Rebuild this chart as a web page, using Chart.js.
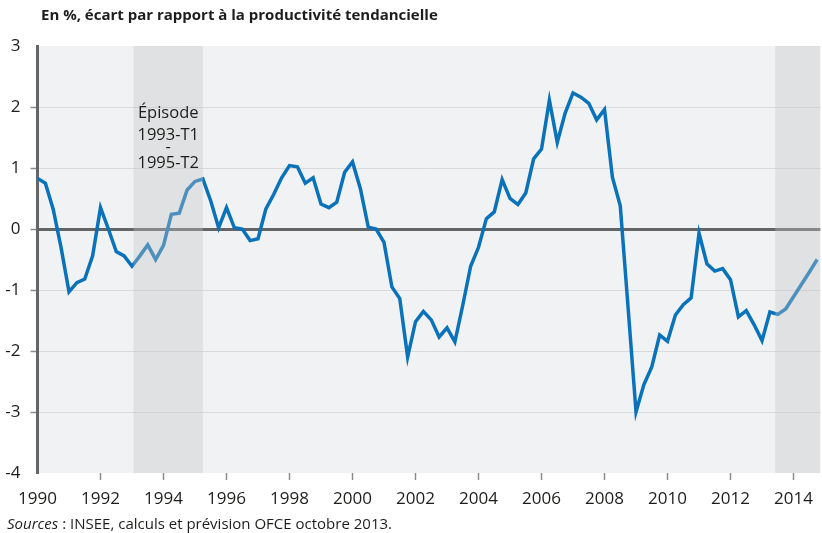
<!DOCTYPE html>
<html>
<head>
<meta charset="utf-8">
<script src="https://cdn.jsdelivr.net/npm/chart.js@4.4.0/dist/chart.umd.min.js"></script>
<style>
html, body { margin: 0; padding: 0; background: #fff; }
#wrap { width: 822px; height: 533px; }
</style>
</head>
<body>
<div id="wrap"><canvas id="ecart" width="822" height="533"></canvas></div>
<script>
// écart à la productivité tendancielle, trimestriel, 1990-T1 .. 2014-T4
var startYear = 1990;
var ecart = [
	0.83, 0.75, 0.32, -0.31, -1.03, -0.88, -0.82, -0.44,
	0.35, 0.00, -0.37, -0.44, -0.61, -0.44, -0.26, -0.50,
	-0.27, 0.24, 0.26, 0.64, 0.78, 0.82, 0.46, 0.02,
	0.35, 0.02, 0.00, -0.19, -0.16, 0.33, 0.57, 0.84,
	1.04, 1.02, 0.75, 0.84, 0.41, 0.35, 0.44, 0.93,
	1.10, 0.66, 0.03, 0.00, -0.22, -0.95, -1.14, -2.10,
	-1.52, -1.35, -1.49, -1.77, -1.62, -1.85, -1.25, -0.61,
	-0.30, 0.17, 0.28, 0.81, 0.50, 0.40, 0.59, 1.15,
	1.31, 2.11, 1.42, 1.90, 2.23, 2.16, 2.06, 1.79,
	1.96, 0.85, 0.38, -1.30, -3.00, -2.55, -2.26, -1.74,
	-1.84, -1.41, -1.24, -1.13, -0.07, -0.57, -0.69, -0.65,
	-0.83, -1.44, -1.34, -1.57, -1.83, -1.36, -1.40, -1.31,
	-1.11, -0.91, -0.71, -0.50
];

// zones grisées : épisode 1993-T1 / 1995-T2 et prévision
var episode = [1993.05, 1995.25];
var prevision = [2013.42, 2014.85];
var episodeText = ['Épisode', '1993-T1', '-', '1995-T2'];

var yearMin = 1990, yearMax = 2014.85;
var yMin = -4, yMax = 3;

var titre = 'En %, écart par rapport à la productivité tendancielle';
var sourceLabel = 'Sources';
var sourceText = ' : INSEE, calculs et prévision OFCE octobre 2013.';

var points = ecart.map(function (v, i) {
	return { x: startYear + i / 4, y: v };
});

var font = '"Open Sans", "Noto Sans", sans-serif';

var decor = {
	id: 'decor',
	beforeDraw: function (chart) {
		var c = chart.ctx, a = chart.chartArea;
		c.save();
		c.fillStyle = '#f1f2f4';
		c.fillRect(a.left, a.top, a.right - a.left, a.bottom - a.top);
		c.restore();
	},
	afterDatasetsDraw: function (chart) {
		var c = chart.ctx, a = chart.chartArea, xs = chart.scales.x;
		c.save();
		c.fillStyle = 'rgba(193, 194, 196, 0.37)';
		for (let z of [episode, prevision]) {
			var x0 = xs.getPixelForValue(z[0]);
			var x1 = Math.min(xs.getPixelForValue(z[1]), a.right);
			c.fillRect(x0, a.top, x1 - x0, a.bottom - a.top);
		}
		// texte de l'épisode
		var cx = xs.getPixelForValue((episode[0] + episode[1]) / 2);
		var baselines = [118, 140, 152, 168];
		c.fillStyle = '#1d1d1b';
		c.font = '16.5px ' + font;
		c.textAlign = 'center';
		c.textBaseline = 'alphabetic';
		for (let i = 0; i < episodeText.length; i++) {
			c.fillText(episodeText[i], cx, baselines[i]);
		}
		c.restore();
	},
	afterDraw: function (chart) {
		var c = chart.ctx;
		c.save();
		c.fillStyle = '#1d1d1b';
		c.textAlign = 'left';
		c.textBaseline = 'alphabetic';
		c.font = 'bold 15px ' + font;
		c.fillText(titre, 41, 20);
		c.font = 'italic 15px ' + font;
		c.fillText(sourceLabel, 7, 529);
		var w = c.measureText(sourceLabel).width;
		c.font = '15px ' + font;
		c.fillText(sourceText, 7 + w, 529);
		c.restore();
	}
};

window.onload = function () {
	var ctx = document.getElementById('ecart').getContext('2d');

	new Chart(ctx, {
		type: 'line',
		data: {
			datasets: [{
				data: points,
				borderColor: '#0a72ba',
				borderWidth: 3.5,
				pointRadius: 0,
				tension: 0,
				fill: false
			}]
		},
		options: {
			responsive: false,
			animation: false,
			devicePixelRatio: 1,
			layout: { padding: { top: 46, right: 1, left: 0, bottom: 0 } },
			plugins: {
				legend: { display: false },
				tooltip: { enabled: false }
			},
			scales: {
				x: {
					type: 'linear',
					min: yearMin,
					max: yearMax,
					afterFit: function (scale) { scale.height = 60; },
					border: { display: false },
					grid: {
						drawOnChartArea: false,
						tickLength: 7,
						tickWidth: 1.5,
						tickColor: function (c) {
							return c.tick && c.tick.value === yearMin ? 'rgba(0,0,0,0)' : '#8c8c8e';
						}
					},
					ticks: {
						stepSize: 2,
						includeBounds: false,
						autoSkip: false,
						maxRotation: 0,
						padding: 9,
						color: '#1d1d1b',
						font: { family: font, size: 17 },
						callback: function (v) { return String(v); }
					}
				},
				y: {
					min: yMin,
					max: yMax,
					afterFit: function (scale) { scale.width = 37.5; },
					border: { display: true, color: '#646567', width: 3 },
					grid: {
						color: function (c) {
							var v = c.tick.value;
							if (v === yMin || v === yMax) return 'rgba(0,0,0,0)';
							return v === 0 ? '#646567' : '#d9dadc';
						},
						lineWidth: function (c) { return c.tick.value === 0 ? 3 : 1; },
						tickLength: 7,
						tickWidth: 1.5,
						tickColor: function (c) {
							var v = c.tick.value;
							return (v === yMin || v === yMax) ? 'rgba(0,0,0,0)' : '#8c8c8e';
						}
					},
					ticks: {
						stepSize: 1,
						padding: 10,
						color: '#1d1d1b',
						font: { family: font, size: 17 }
					}
				}
			}
		},
		plugins: [decor]
	});
};
</script>
</body>
</html>
